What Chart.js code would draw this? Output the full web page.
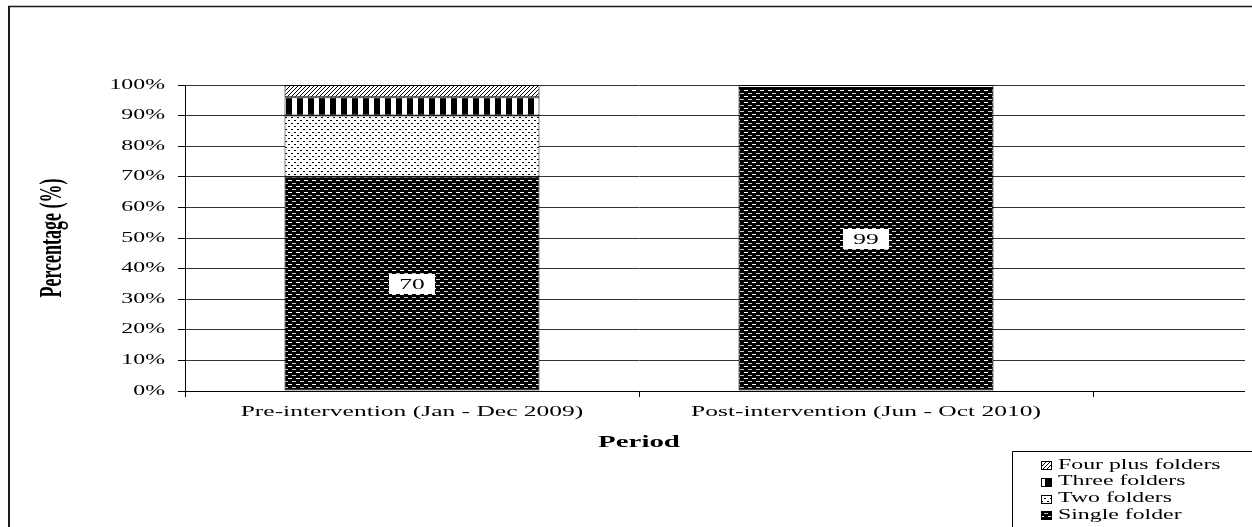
<!DOCTYPE html>
<html>
<head>
<meta charset="utf-8">
<script src="https://cdn.jsdelivr.net/npm/chart.js@4"></script>
<style>
  html, body { margin: 0; padding: 0; background: #fff; }
  #wrap { width: 1252px; height: 527px; position: relative; }
</style>
</head>
<body>
<div id="wrap"><canvas id="c" width="1252" height="527"></canvas></div>
<script>
// ---- data ----
const categories = ['Pre-intervention (Jan - Dec 2009)', 'Post-intervention (Jun - Oct 2010)'];
const singleFolder = [70, 99];
const twoFolders = [20, 1];
const threeFolders = [6, 0];
const fourPlusFolders = [4, 0];
const seriesNames = ['Single folder', 'Two folders', 'Three folders', 'Four plus folders'];
const yTickValues = [0, 10, 20, 30, 40, 50, 60, 70, 80, 90, 100];
const yTickLabels = ['0%', '10%', '20%', '30%', '40%', '50%', '60%', '70%', '80%', '90%', '100%'];
const xTitle = 'Period';
const yTitle = 'Percentage (%)';

// ---- patterns ----
function makePattern(w, h, drawFn) {
  const c = document.createElement('canvas');
  c.width = w; c.height = h;
  const g = c.getContext('2d');
  drawFn(g);
  return document.getElementById('c').getContext('2d').createPattern(c, 'repeat');
}
const patSingle = makePattern(8, 6, g => {
  g.fillStyle = '#000'; g.fillRect(0, 0, 8, 6);
  g.fillStyle = '#fff'; g.fillRect(0, 0, 4, 1);
  g.fillStyle = '#c8c8c8'; g.fillRect(4, 3, 4, 1);
});
const patTwo = makePattern(6, 6, g => {
  g.fillStyle = '#fff'; g.fillRect(0, 0, 6, 6);
  g.fillStyle = '#000'; g.fillRect(0, 0, 2, 1); g.fillRect(3, 3, 2, 1);
});
const patThree = makePattern(11, 4, g => {
  g.fillStyle = '#fff'; g.fillRect(0, 0, 11, 4);
  g.fillStyle = '#000'; g.fillRect(0, 0, 6, 4);
});
const patFour = makePattern(4, 4, g => {
  g.fillStyle = '#fff'; g.fillRect(0, 0, 4, 4);
  g.fillStyle = '#000';
  g.fillRect(3, 0, 1, 1); g.fillRect(2, 1, 1, 1); g.fillRect(1, 2, 1, 1); g.fillRect(0, 3, 1, 1);
});
const patterns = [patSingle, patTwo, patThree, patFour];

// ---- stretched text helper (reference text is horizontally widened) ----
const SX = 1.7;
const SERIF = '"Liberation Serif", "Times New Roman", serif';
function stext(ctx, text, x, y, align, font, sx) {
  ctx.save();
  ctx.font = font;
  ctx.textBaseline = 'middle';
  ctx.textAlign = 'left';
  const w = ctx.measureText(text).width * sx;
  const left = align === 'center' ? x - w / 2 : (align === 'right' ? x - w : x);
  ctx.translate(left, y);
  ctx.scale(sx, 1);
  ctx.fillStyle = '#000';
  ctx.fillText(text, 0, 0);
  ctx.restore();
  return w;
}
function alignPx(p) { return Math.round(p - 0.5) + 0.5; }

const decorPlugin = {
  id: 'decor',
  beforeDraw(chart) {
    const ctx = chart.ctx;
    ctx.save();
    ctx.fillStyle = '#fff';
    ctx.fillRect(0, 0, chart.width, chart.height);
    ctx.restore();
  },
  afterDraw(chart) {
    const ctx = chart.ctx;
    const ys = chart.scales.y, xs = chart.scales.x, ca = chart.chartArea;
    ctx.save();
    // extend gridlines beyond category axis like the reference
    ctx.lineWidth = 1;
    yTickValues.forEach(v => {
      const py = alignPx(ys.getPixelForValue(v));
      ctx.strokeStyle = v === 0 ? '#000' : '#333';
      ctx.beginPath(); ctx.moveTo(ca.right - 1, py); ctx.lineTo(1245, py); ctx.stroke();
    });
    // y tick labels
    yTickValues.forEach((v, i) => {
      stext(ctx, yTickLabels[i], 165, ys.getPixelForValue(v), 'right', '14px ' + SERIF, SX);
    });
    // x tick labels
    categories.forEach((c, i) => {
      stext(ctx, c, xs.getPixelForValue(i), 412, 'center', '15px ' + SERIF, SX);
    });
    // axis titles
    stext(ctx, xTitle, (ca.left + ca.right) / 2, 443, 'center', 'bold 17px ' + SERIF, SX);
    ctx.save();
    ctx.translate(53, (ca.top + ca.bottom) / 2);
    ctx.scale(SX, 1);
    ctx.rotate(-Math.PI / 2);
    ctx.font = 'bold 18px ' + SERIF;
    ctx.textAlign = 'center'; ctx.textBaseline = 'middle';
    ctx.fillStyle = '#000';
    ctx.fillText(yTitle, 0, 0);
    ctx.restore();
    // data labels on Single folder segments
    const meta = chart.getDatasetMeta(0);
    meta.data.forEach((el, i) => {
      const txt = String(singleFolder[i]);
      const cy = (el.y + el.base) / 2;
      ctx.font = '15px ' + SERIF;
      const tw = ctx.measureText(txt).width * SX;
      const bw = tw + 20, bh = 20;
      ctx.fillStyle = '#fff';
      ctx.fillRect(Math.round(el.x - bw / 2), Math.round(cy - bh / 2), Math.round(bw), bh);
      stext(ctx, txt, el.x, cy + 1, 'center', '15px ' + SERIF, SX);
    });
    // outer frame
    ctx.strokeStyle = '#1a1a1a';
    ctx.lineWidth = 2;
    ctx.beginPath(); ctx.moveTo(9, 527); ctx.lineTo(9, 6); ctx.stroke();
    ctx.lineWidth = 1.3;
    ctx.beginPath(); ctx.moveTo(8, 6.5); ctx.lineTo(1252, 6.5); ctx.stroke();
    // legend box
    ctx.strokeStyle = '#000';
    ctx.lineWidth = 1;
    ctx.beginPath(); ctx.moveTo(1012.5, 527); ctx.lineTo(1012.5, 451.5); ctx.lineTo(1252, 451.5); ctx.stroke();
    const order = [3, 2, 1, 0];
    order.forEach((di, r) => {
      const cy = 465 + r * 16.8;
      ctx.fillStyle = patterns[di];
      ctx.fillRect(1041, Math.round(cy - 4), 11, 9);
      ctx.strokeStyle = '#000';
      ctx.strokeRect(1041.5, Math.round(cy - 4) + 0.5, 10, 8);
      stext(ctx, seriesNames[di], 1058, cy, 'left', '14px ' + SERIF, SX);
    });
    ctx.restore();
  }
};

const rawSeries = [singleFolder, twoFolders, threeFolders, fourPlusFolders];
const datasets = rawSeries.map((arr, i) => ({
  label: seriesNames[i],
  data: arr.map(v => (v === 0 ? null : v)),
  backgroundColor: patterns[i],
  borderColor: '#000',
  borderWidth: 1,
  borderSkipped: false,
  barPercentage: 0.5617,
  categoryPercentage: 1.0
}));

new Chart(document.getElementById('c'), {
  type: 'bar',
  data: { labels: categories, datasets },
  plugins: [decorPlugin],
  options: {
    responsive: false,
    animation: false,
    events: [],
    layout: { padding: { left: 0, top: 85, right: 159, bottom: 0 } },
    plugins: { legend: { display: false }, tooltip: { enabled: false }, title: { display: false } },
    scales: {
      x: {
        stacked: true,
        offset: true,
        ticks: { display: false },
        grid: { offset: true, drawOnChartArea: false, drawTicks: true, tickLength: 6, color: '#000', tickColor: '#000' },
        border: { display: true, color: '#000', width: 1 },
        afterFit(scale) { scale.height = 527 - 391; }
      },
      y: {
        stacked: true,
        min: 0, max: 100,
        ticks: { display: false, stepSize: 10 },
        grid: { color: '#333', lineWidth: 1, drawTicks: true, tickLength: 7, tickColor: '#000' },
        border: { display: true, color: '#000', width: 1 },
        afterFit(scale) { scale.width = 185; }
      }
    }
  }
});
</script>
</body>
</html>
